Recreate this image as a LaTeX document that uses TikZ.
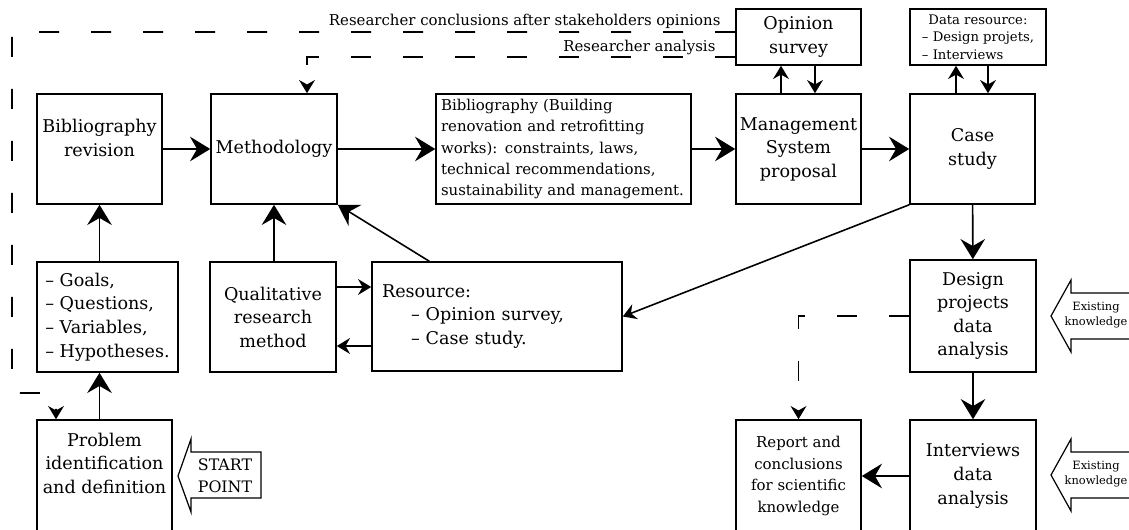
\documentclass[tikz,border=0pt]{standalone}
\usepackage{fontspec}
\setmainfont{DejaVu Serif}
\usetikzlibrary{arrows.meta,calc}

\begin{document}
\begin{tikzpicture}[x=0.02cm,y=-0.02cm,line width=0.9pt,
  box/.style={draw,inner xsep=1pt,inner ysep=2pt,align=center,font=\fontsize{10}{13.4}\selectfont},
  big/.style={-{Stealth[length=11.5pt,width=14pt,inset=4pt]}},
  small/.style={-{Stealth[length=7.5pt,width=9pt,inset=2.5pt]}},
  longdash/.style={dash pattern=on 11.4pt off 18.2pt},
  lab/.style={inner sep=0pt,font=\fontsize{8.5}{10}\selectfont}]
\useasboundingbox (0,0) rectangle (1129,530);
\clip (0,0) rectangle (1129,530);

\node[box,minimum width=2.5cm,minimum height=2.2cm,text depth=0.45cm] (bibrev) at (99.5,149) {Bibliography\\revision};
\node[box,minimum width=2.52cm,minimum height=2.2cm] (meth) at (274,149) {Methodology};
\node[box,minimum width=5.1cm,minimum height=2.2cm,text width=4.9cm,inner xsep=0.1cm,align=left,font=\fontsize{8.5}{12}\selectfont] (biblio) at (563.5,149) {Bibliography (Building\\renovation and retrofitting\\works): constraints, laws,\\technical recommendations,\\sustainability and management.};
\node[box,minimum width=2.5cm,minimum height=2.2cm] (mgmt) at (798.5,149) {Management\\System\\proposal};
\node[box,minimum width=2.5cm,minimum height=2.2cm] (case) at (972.5,149) {Case\\study};
\node[box,minimum width=2.5cm,minimum height=1.12cm] (opin) at (798.5,37) {Opinion\\survey};
\node[box,minimum width=2.72cm,minimum height=1.12cm,align=left,font=\fontsize{7.5}{10}\selectfont] (data) at (978,37) {\hspace*{0.13cm}Data resource:\\– Design projets,\\– Interviews};

\node[box,minimum width=2.82cm,minimum height=2.2cm,align=left] (goals) at (107.5,317) {– Goals,\\– Questions,\\– Variables,\\– Hypotheses.};
\node[box,minimum width=2.52cm,minimum height=2.2cm] (qual) at (273,317) {Qualitative\\research\\method};
\node[box,minimum height=2.18cm,text width=4.6cm,inner xsep=0.2cm,align=left] (res) at (497,316.5) {Resource:\\\hspace*{0.58cm}– Opinion survey,\\\hspace*{0.58cm}– Case study.};
\node[box,minimum width=2.52cm,minimum height=2.24cm,font=\fontsize{10}{13.2}\selectfont] (design) at (973,316) {Design\\projects\\data\\analysis};

\node[box,minimum width=2.7cm,minimum height=2.24cm,text depth=0.52cm] (prob) at (104.5,476) {Problem\\identification\\and definition};
\node[box,minimum width=2.5cm,minimum height=2.24cm,font=\fontsize{8.5}{12.2}\selectfont] (report) at (798.5,476) {Report and\\conclusions\\for scientific\\knowledge};
\node[box,minimum width=2.52cm,minimum height=2.24cm] (interv) at (973,476) {Interviews\\data\\analysis};

\draw[big] (bibrev) -- (meth);
\draw[big] (meth) -- (biblio);
\draw[big] (biblio) -- (mgmt);
\draw[big] (mgmt) -- (case);
\draw[big] (case) -- (design);
\draw[big] (design) -- (interv);
\draw[big] (interv) -- (report);
\draw[big] (goals.north -| bibrev.south) -- (bibrev.south);
\draw[big] (prob.north -| bibrev.south) -- (goals.south -| bibrev.south);
\draw[big] (qual.north -| meth.south) -- (meth.south);
\draw[big] ($(res.north west)+(58,0)$) -- (meth.south east);
\draw[small] (case.south west) -- (res.east);
\draw[small] ($(qual.east)+(0,-30)$) -- ($(res.west)+(0,-29.5)$);
\draw[small] ($(res.west)+(0,29.5)$) -- ($(qual.east)+(0,29)$);

\draw[small] ([xshift=-0.35cm]mgmt.north) -- ([xshift=-0.35cm]opin.south);
\draw[small] ([xshift=0.33cm]opin.south) -- ([xshift=0.33cm]mgmt.north);
\draw[small] ([xshift=-0.33cm]case.north) -- ([xshift=-0.44cm]data.south);
\draw[small] ([xshift=0.2cm]data.south) -- ([xshift=0.31cm]case.north);

\draw[longdash,small] ([yshift=0.1cm]opin.west) node[lab,anchor=base east,xshift=-0.28cm,yshift=0.12cm] {Researcher conclusions after stakeholders opinions} -- (12,32) -- (12,393) -| ([xshift=-0.97cm]prob.north);
\draw[longdash,small] ([yshift=-0.4cm]opin.west) node[lab,anchor=base east,xshift=-0.38cm,yshift=0.1cm] {Researcher analysis} -| ([xshift=0.66cm]meth.north);
\draw[longdash,small] (design.west) -| (report.north);

\draw[line width=0.7pt] (178,476) -- (191,439) -- (191,452) -- (261,452) -- (261,498) -- (191,498) -- (191,512) -- cycle;
\node[align=center,inner sep=0pt,font=\fontsize{9}{12.5}\selectfont] (start) at (225,476) {START\\POINT};

\foreach \y/\n in {316/know1,475/know2}{
  \draw[line width=0.7pt] (1051,\y) -- (1071,\y-36) -- (1071,\y-23) -- (1140,\y-23) -- (1140,\y+23) -- (1071,\y+23) -- (1071,\y+36) -- cycle;
  \node[align=center,inner sep=0pt,font=\fontsize{6.5}{8.5}\selectfont] (\n) at (1096,\y-1) {Existing\\knowledge};
}

\end{tikzpicture}
\end{document}
